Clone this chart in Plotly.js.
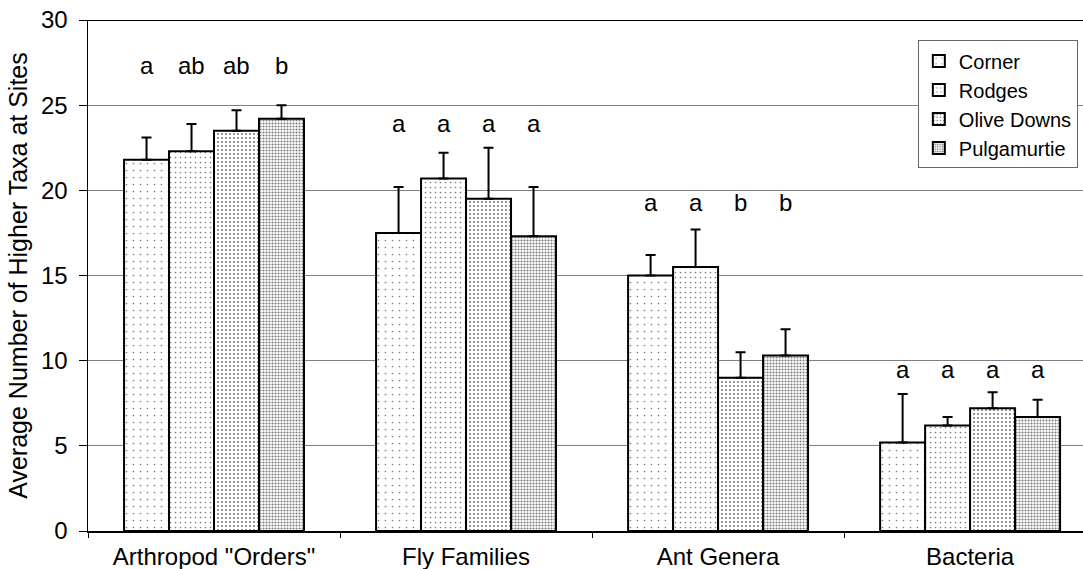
<!DOCTYPE html>
<html>
<head>
<meta charset="utf-8">
<script src="https://cdn.plot.ly/plotly-3.0.1.min.js"></script>
<style>html,body{margin:0;padding:0;background:#fff;overflow:hidden}</style>
</head>
<body>
<div id="chart" style="width:1083px;height:569px"></div>
<script>
// ---- data ----
const categories = ['Arthropod "Orders"', 'Fly Families', 'Ant Genera', 'Bacteria'];
const seriesNames = ['Corner', 'Rodges', 'Olive Downs', 'Pulgamurtie'];

const corner      = [21.8, 17.5, 15.0, 5.2];
const rodges      = [22.3, 20.7, 15.5, 6.2];
const oliveDowns  = [23.5, 19.5, 9.0, 7.2];
const pulgamurtie = [24.2, 17.3, 10.3, 6.7];

const cornerErr      = [1.3, 2.7, 1.2, 2.85];
const rodgesErr      = [1.6, 1.5, 2.2, 0.5];
const oliveDownsErr  = [1.2, 3.0, 1.5, 0.95];
const pulgamurtieErr = [0.8, 2.9, 1.55, 1.0];

const cornerLetters      = ['a', 'a', 'a', 'a'];
const rodgesLetters      = ['ab', 'a', 'a', 'a'];
const oliveDownsLetters  = ['ab', 'a', 'b', 'a'];
const pulgamurtieLetters = ['b', 'a', 'b', 'a'];
const letterHeights = [27.3, 23.95, 19.3, 9.5];

const yTickVals = [0, 5, 10, 15, 20, 25, 30];

// ---- styling ----
const FONT = 'Liberation Sans, Arial, Helvetica, sans-serif';
const values = [corner, rodges, oliveDowns, pulgamurtie];
const errs = [cornerErr, rodgesErr, oliveDownsErr, pulgamurtieErr];
const letters = [cornerLetters, rodgesLetters, oliveDownsLetters, pulgamurtieLetters];
const patterns = [
  {shape: '.', size: 7, solidity: 0.045},
  {shape: '.', size: 5, solidity: 0.09},
  {shape: '.', size: 4, solidity: 0.22},
  {shape: '.', size: 3, solidity: 0.40}
];
const BARGAP = 0.286;
const nS = seriesNames.length;
const bw = (1 - BARGAP) / nS;

const traces = seriesNames.map((name, j) => ({
  type: 'bar',
  name: name,
  x: categories,
  y: values[j],
  legendgroup: 'g' + j,
  marker: {
    color: '#ffffff',
    line: {color: '#000', width: 2},
    pattern: Object.assign({fgcolor: '#000', bgcolor: '#fff', fillmode: 'overlay'}, patterns[j])
  },
  error_y: {
    type: 'data', symmetric: false,
    array: errs[j], arrayminus: errs[j].map(() => 0),
    color: '#000', thickness: 2, width: 5
  },
  hoverinfo: 'skip'
}));

const annotations = [];
seriesNames.forEach((name, j) => {
  categories.forEach((c, i) => {
    annotations.push({
      x: i - (1 - BARGAP) / 2 + (j + 0.5) * bw,
      y: letterHeights[i],
      xref: 'x', yref: 'y',
      text: letters[j][i],
      showarrow: false,
      font: {family: FONT, size: 24, color: '#000'}
    });
  });
});

const layout = {
  width: 1083, height: 569,
  margin: {l: 88, r: 0, t: 20, b: 38},
  paper_bgcolor: '#fff', plot_bgcolor: '#fff',
  barmode: 'group', bargap: BARGAP, bargroupgap: 0,
  font: {family: FONT, color: '#000'},
  showlegend: true,
  legend: {
    x: 0.834, y: 0.96, xanchor: 'left', yanchor: 'top',
    bgcolor: '#fff', bordercolor: '#666', borderwidth: 1,
    font: {family: FONT, size: 20, color: '#000'},
    tracegroupgap: 4, traceorder: 'normal',
    itemwidth: 30
  },
  xaxis: {
    type: 'category',
    range: [-0.5, 3.448],
    tickson: 'boundaries',
    ticks: 'outside', ticklen: 5, tickcolor: '#000', tickwidth: 1,
    ticklabelstandoff: 3,
    showline: true, linecolor: '#000', linewidth: 2,
    showgrid: false, zeroline: false,
    tickfont: {family: FONT, size: 24, color: '#000'},
    fixedrange: true
  },
  yaxis: {
    range: [0, 30],
    tickvals: yTickVals,
    ticks: 'outside', ticklen: 8, tickcolor: '#000', tickwidth: 1,
    ticklabelstandoff: 6,
    showline: true, linecolor: '#000', linewidth: 1.5,
    showgrid: true, gridcolor: '#808080', gridwidth: 1,
    zeroline: false,
    tickfont: {family: FONT, size: 24, color: '#000'},
    title: {text: 'Average Number of Higher Taxa at Sites', font: {family: FONT, size: 25, color: '#000'}, standoff: 6},
    fixedrange: true
  },
  shapes: [{
    type: 'line', xref: 'paper', x0: 0, x1: 1, yref: 'y', y0: 30, y1: 30,
    line: {color: '#000', width: 2}
  }],
  annotations: annotations
};

Plotly.newPlot('chart', traces, layout, {displayModeBar: false, staticPlot: true});
</script>
</body>
</html>
